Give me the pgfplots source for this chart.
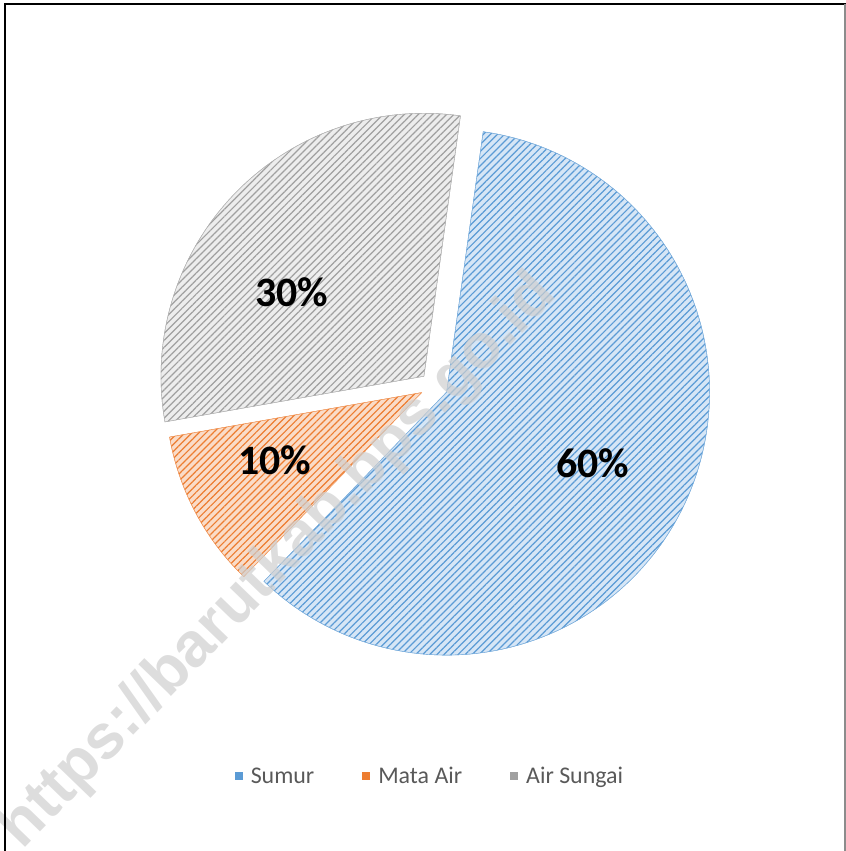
\documentclass[border=0pt]{standalone}
\usepackage{pgfplots}
\pgfplotsset{compat=1.18}
\usepackage{fontspec}
\setmainfont{Carlito}
\newfontfamily\wmfont{Liberation Sans}
\usetikzlibrary{patterns.meta}

\definecolor{bluL}{HTML}{5B9BD5}
\definecolor{bluB}{HTML}{D6E6F6}
\definecolor{orL}{HTML}{ED7D31}
\definecolor{orB}{HTML}{FADCC8}
\definecolor{grL}{HTML}{A0A0A0}
\definecolor{grB}{HTML}{EDEDED}
\definecolor{legtext}{HTML}{595959}
\definecolor{wm}{HTML}{CFCFCF}

% pie data (percent)
\def\vA{60} % Sumur
\def\vB{10} % Mata Air
\def\vC{30} % Air Sungai
\def\firstangle{8}

\tikzset{
  hatchblue/.style={fill=bluB, draw=bluL!80, line width=0.4bp,
     postaction={pattern={Lines[angle=45,distance=5bp,line width=1.2bp]}, pattern color=bluL}},
  hatchor/.style={fill=orB, draw=orL!80, line width=0.4bp,
     postaction={pattern={Lines[angle=45,distance=5bp,line width=1.2bp]}, pattern color=orL}},
  hatchgr/.style={fill=grB, draw=grL!80, line width=0.4bp,
     postaction={pattern={Lines[angle=45,distance=5bp,line width=1.2bp]}, pattern color=grL}},
}

\begin{document}
\begin{tikzpicture}
\pgfmathsetmacro\tot{\vA+\vB+\vC}
\pgfmathsetmacro\aS{90-\firstangle}
\pgfmathsetmacro\aE{\aS-360*(\vA/\tot)}
\pgfmathsetmacro\bE{\aE-360*(\vB/\tot)}
\pgfmathsetmacro\cE{\bE-360*(\vC/\tot)}
\pgfmathsetmacro\aM{(\aS+\aE)/2}
\pgfmathsetmacro\bM{(\aE+\bE)/2}
\pgfmathsetmacro\cM{(\bE+\cE)/2}
\def\cx{434}\def\cy{465}\def\dd{14}\def\R{263}\def\Rb{256}
\pgfmathsetmacro\ax{\cx+\dd*cos(\aM)}\pgfmathsetmacro\ay{\cy+\dd*sin(\aM)}
\pgfmathsetmacro\bx{\cx+\dd*cos(\bM)}\pgfmathsetmacro\by{\cy+\dd*sin(\bM)}
\pgfmathsetmacro\gx{\cx+\dd*cos(\cM)}\pgfmathsetmacro\gy{\cy+\dd*sin(\cM)}
\begin{axis}[
  at={(0,0)}, anchor=south west,
  scale only axis, width=846bp, height=851bp,
  xmin=0, xmax=846, ymin=0, ymax=851,
  hide axis, clip=false,
  legend columns=3,
  legend cell align=left,
  legend style={at={(0.5082,0.0881)}, anchor=center, draw=none, fill=none,
    font=\fontsize{24}{28}\selectfont, text=legtext,
    /tikz/every even column/.append style={column sep=46bp}},
  legend image code/.code={\path[#1] (0bp,-4bp) rectangle (8bp,4bp); \path (14bp,0bp);},
]
\addplot[forget plot, hatchblue, domain=\aE:\aS, samples=120, variable=\t]
  ({\ax+\R*cos(\t)}, {\ay+\R*sin(\t)}) -- (axis cs:\ax,\ay) -- cycle;
\addplot[forget plot, hatchor, domain=\bE:\aE, samples=40, variable=\t]
  ({\bx+\Rb*cos(\t)}, {\by+\Rb*sin(\t)}) -- (axis cs:\bx,\by) -- cycle;
\addplot[forget plot, hatchgr, domain=\cE:\bE, samples=80, variable=\t]
  ({\gx+\R*cos(\t)}, {\gy+\R*sin(\t)}) -- (axis cs:\gx,\gy) -- cycle;

\addlegendimage{fill=bluL, draw=none}
\addlegendentry{Sumur}
\addlegendimage{fill=orL, draw=none}
\addlegendentry{Mata Air}
\addlegendimage{fill=grL, draw=none}
\addlegendentry{Air Sungai}

\node[font=\bfseries\fontsize{42}{44}\selectfont] at (axis cs:593,388) {60\%};
\node[font=\bfseries\fontsize{42}{44}\selectfont] at (axis cs:275,391) {10\%};
\node[font=\bfseries\fontsize{42}{44}\selectfont] at (axis cs:292,559) {30\%};

\node[rotate=46, font=\wmfont\bfseries\fontsize{63}{68}\selectfont, text=wm, opacity=0.7]
  at (axis cs:279,289) {https://barutkab.bps.go.id};
\end{axis}
\draw[black, line width=2bp] (5bp,0bp) -- (5bp,847bp);
\draw[black, line width=1.5bp] (4bp,847bp) -- (846bp,847bp);
\draw[black!45, line width=1.5bp] (845bp,0bp) -- (845bp,847bp);
\pgfresetboundingbox
\path[use as bounding box] (0bp,0bp) rectangle (846bp,851bp);
\end{tikzpicture}
\end{document}
